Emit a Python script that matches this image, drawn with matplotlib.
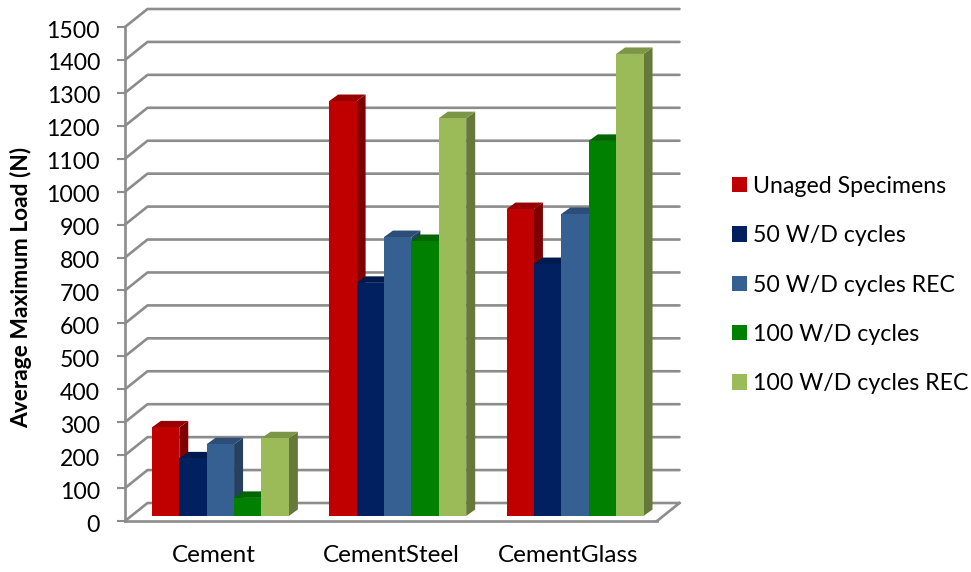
import matplotlib
matplotlib.use('Agg')
import matplotlib.pyplot as plt
from matplotlib.patches import Polygon, Patch
from matplotlib.transforms import ScaledTranslation
import numpy as np

plt.rcParams['font.family'] = ['Lato', 'DejaVu Sans']

categories = ['Cement', 'CementSteel', 'CementGlass']
series_names = ['Unaged Specimens', '50 W/D cycles', '50 W/D cycles REC',
                '100 W/D cycles', '100 W/D cycles REC']
unaged = [269, 1260, 932]
wd50 = [175, 708, 765]
wd50_rec = [218, 847, 917]
wd100 = [55, 835, 1139]
wd100_rec = [236, 1208, 1403]
series = [unaged, wd50, wd50_rec, wd100, wd100_rec]
yticks = np.arange(0, 1501, 100)

front = ['#C00000', '#002060', '#376092', '#008000', '#9BBB59']
top = ['#990000', '#001A4D', '#2C4D75', '#006600', '#7C9647']
side = ['#7F0000', '#001540', '#254061', '#005000', '#66783A']
gray = '#8C8C8C'

W, H = 971, 572
fig = plt.figure(figsize=(W / 100, H / 100), dpi=100)
ax = fig.add_axes([125 / W, (H - 521) / H, 532 / W, 494 / H])
ax.set_xlim(0, 3)
ax.set_ylim(0, 1500)

# pixel -> data factors for the fake 3d offsets
px_x = 3 / 532
px_y = 1500 / 494
wall_dx, wall_dy = 22.5 * px_x, 18 * px_y
base_dx, base_dy = 6.7 * px_x, 5 * px_y
bar_dx, bar_dy = 9 * px_x, 6.5 * px_y
bar_w = 27.4 * px_x

# back wall grid, goes up the side wall then across
for v in yticks:
    ax.plot([0, wall_dx, 3 + wall_dx], [v, v + wall_dy, v + wall_dy],
            color=gray, lw=1.9, clip_on=False, zorder=1, solid_capstyle='round')
ax.plot([3, 3 + wall_dx], [0, wall_dy], color=gray, lw=1.9, clip_on=False, zorder=1)

z = 2
for c in range(len(categories)):
    for s in range(len(series)):
        val = series[s][c]
        x0 = c + 0.5 + (s - 2.5) * bar_w + base_dx
        x1 = x0 + bar_w
        y0 = base_dy
        y1 = base_dy + val
        ax.add_patch(Polygon([(x1, y0), (x1 + bar_dx, y0 + bar_dy), (x1 + bar_dx, y1 + bar_dy), (x1, y1)],
                             closed=True, fc=side[s], ec='none', clip_on=False, zorder=z))
        ax.add_patch(Polygon([(x0, y1), (x0 + bar_dx, y1 + bar_dy), (x1 + bar_dx, y1 + bar_dy), (x1, y1)],
                             closed=True, fc=top[s], ec='none', clip_on=False, zorder=z))
        ax.bar(x0, val, width=bar_w, bottom=y0, align='edge', color=front[s], clip_on=False, zorder=z)
        z += 1

for sp in ['top', 'right']:
    ax.spines[sp].set_visible(False)
for sp in ['left', 'bottom']:
    ax.spines[sp].set_color(gray)
    ax.spines[sp].set_linewidth(1.9)
    ax.spines[sp].set_zorder(1.5)

ax.set_yticks(yticks)
ax.set_xticks([0.5, 1.5, 2.5])
ax.set_xticklabels(categories, fontsize=17.5)
ax.tick_params(axis='x', length=0, pad=17.5)
ax.tick_params(axis='y', length=6, width=1.5, color=gray, labelsize=16.6, pad=12)
# tick numbers sit a little under their ticks in the original
nudge = ScaledTranslation(0, -2 / 100, fig.dpi_scale_trans)
for lab in ax.get_yticklabels():
    lab.set_transform(lab.get_transform() + nudge)
ax.set_ylabel('Average Maximum Load (N)', fontsize=16.4, fontweight='bold')
ax.yaxis.set_label_coords((32 - 125) / 532, 0.472)

handles = [Patch(fc=front[i], ec='none', label=series_names[i]) for i in range(5)]
ax.legend(handles=handles, loc='center left', bbox_to_anchor=(732 / W, (H - 285) / H),
          bbox_transform=fig.transFigure, frameon=False, fontsize=16.7,
          borderpad=0, borderaxespad=0,
          handlelength=0.65, handleheight=0.65, handletextpad=0.25, labelspacing=1.22)

fig.savefig('out.png', dpi=100)
